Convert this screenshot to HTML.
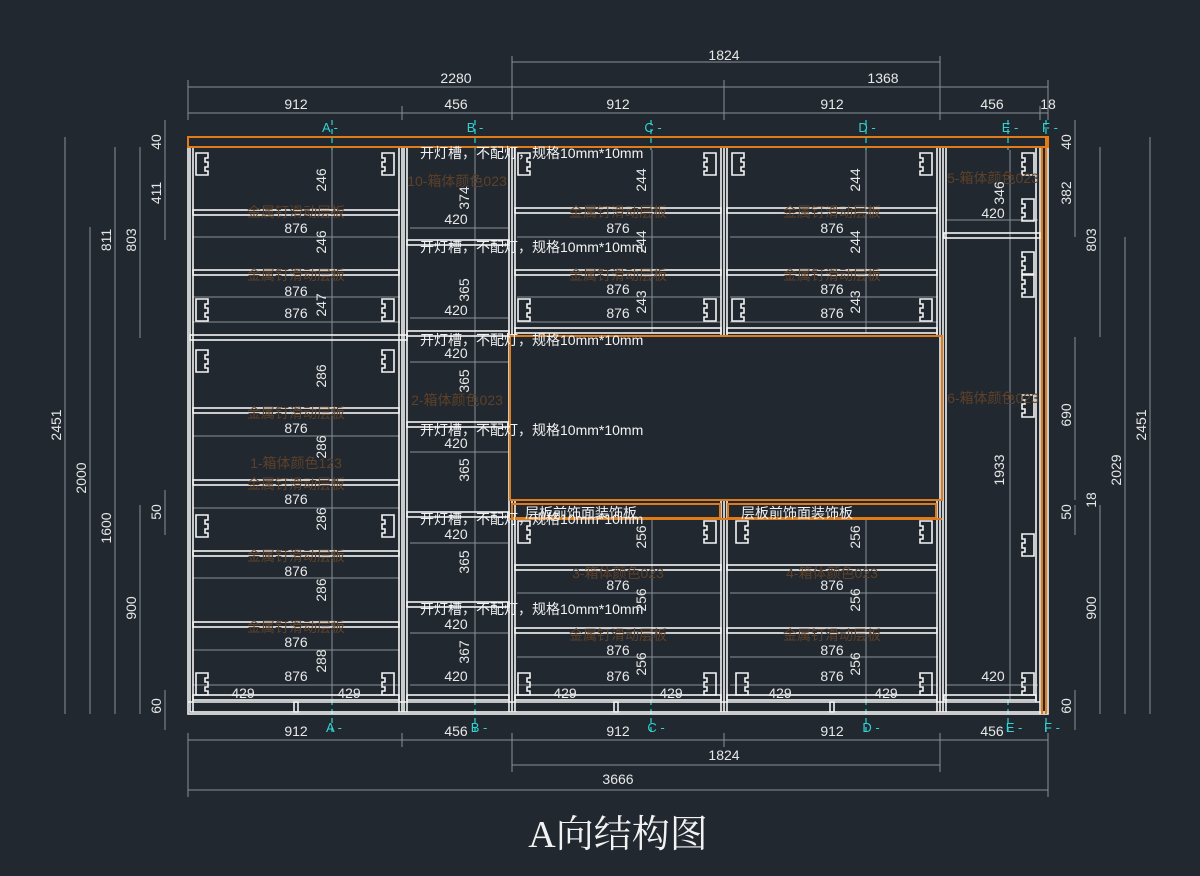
<!DOCTYPE html>
<html><head><meta charset="utf-8"><style>
html,body{margin:0;padding:0;background:#212830;}
svg{display:block}
text{font-family:"Liberation Sans","Noto Sans CJK SC",sans-serif;}
.d{fill:#e8e8e8;font-size:14px;text-anchor:middle}
.w{fill:#f2f2f2;font-size:14px}
.b{fill:#5e4128;font-size:14px;text-anchor:middle}
.c{fill:#2fd4d4;font-size:13px;text-anchor:middle}
.gl{stroke:#8a8f96;stroke-width:1;fill:none}
.s{stroke:#f4f4f4;stroke-width:1.6;fill:none}
.o{stroke:#e07b1a;stroke-width:2;fill:none}
.cy{stroke:#2fd4d4;stroke-width:1.2;stroke-dasharray:5 4}
</style></head><body>
<svg width="1200" height="876" viewBox="0 0 1200 876" xmlns="http://www.w3.org/2000/svg">
<rect width="1200" height="876" fill="#212830"/>

<g class="gl">
<line x1="188" y1="113" x2="1048" y2="113"/>
<line x1="188" y1="87" x2="1048" y2="87"/>
<line x1="512" y1="62" x2="940" y2="62"/>
<line x1="188" y1="740" x2="1048" y2="740"/>
<line x1="512" y1="765" x2="940" y2="765"/>
<line x1="188" y1="790" x2="1048" y2="790"/>
<line x1="188" y1="80" x2="188" y2="120"/><line x1="402" y1="106" x2="402" y2="120"/><line x1="512" y1="56" x2="512" y2="120"/>
<line x1="724" y1="80" x2="724" y2="120"/><line x1="940" y1="56" x2="940" y2="120"/><line x1="1040" y1="106" x2="1040" y2="120"/><line x1="1048" y1="80" x2="1048" y2="120"/>
<line x1="188" y1="733" x2="188" y2="797"/><line x1="402" y1="733" x2="402" y2="747"/><line x1="512" y1="733" x2="512" y2="772"/>
<line x1="724" y1="733" x2="724" y2="747"/><line x1="940" y1="733" x2="940" y2="772"/><line x1="1048" y1="733" x2="1048" y2="797"/>
<line x1="65" y1="137" x2="65" y2="714"/><line x1="90" y1="227" x2="90" y2="714"/>
<line x1="115" y1="147" x2="115" y2="714"/><line x1="140" y1="147" x2="140" y2="338"/><line x1="140" y1="505" x2="140" y2="714"/>
<line x1="165" y1="120" x2="165" y2="240"/><line x1="165" y1="490" x2="165" y2="535"/><line x1="165" y1="690" x2="165" y2="730"/>
<line x1="1075" y1="120" x2="1075" y2="237"/><line x1="1075" y1="337" x2="1075" y2="500"/><line x1="1075" y1="505" x2="1075" y2="535"/><line x1="1075" y1="690" x2="1075" y2="730"/>
<line x1="1100" y1="147" x2="1100" y2="337"/><line x1="1100" y1="505" x2="1100" y2="714"/>
<line x1="1125" y1="237" x2="1125" y2="714"/><line x1="1150" y1="137" x2="1150" y2="714"/>
<line x1="332" y1="150" x2="332" y2="700"/><line x1="475" y1="150" x2="475" y2="700"/>
<line x1="652" y1="150" x2="652" y2="333"/><line x1="652" y1="520" x2="652" y2="700"/>
<line x1="866" y1="150" x2="866" y2="333"/><line x1="866" y1="520" x2="866" y2="700"/>
<line x1="1010" y1="150" x2="1010" y2="700"/>
<line x1="192" y1="237" x2="400" y2="237"/><line x1="192" y1="297" x2="400" y2="297"/><line x1="192" y1="322" x2="400" y2="322"/>
<line x1="192" y1="436" x2="400" y2="436"/><line x1="192" y1="508" x2="400" y2="508"/><line x1="192" y1="578" x2="400" y2="578"/><line x1="192" y1="650" x2="400" y2="650"/><line x1="192" y1="685" x2="400" y2="685"/>
<line x1="410" y1="228" x2="508" y2="228"/><line x1="410" y1="318" x2="508" y2="318"/><line x1="410" y1="362" x2="508" y2="362"/><line x1="410" y1="452" x2="508" y2="452"/><line x1="410" y1="543" x2="508" y2="543"/><line x1="410" y1="633" x2="508" y2="633"/><line x1="410" y1="685" x2="508" y2="685"/>
<line x1="517" y1="237" x2="721" y2="237"/><line x1="517" y1="297" x2="721" y2="297"/><line x1="517" y1="322" x2="721" y2="322"/>
<line x1="730" y1="237" x2="938" y2="237"/><line x1="730" y1="297" x2="938" y2="297"/><line x1="730" y1="322" x2="938" y2="322"/>
<line x1="517" y1="593" x2="721" y2="593"/><line x1="517" y1="657" x2="721" y2="657"/><line x1="517" y1="685" x2="721" y2="685"/>
<line x1="730" y1="593" x2="938" y2="593"/><line x1="730" y1="657" x2="938" y2="657"/><line x1="730" y1="685" x2="938" y2="685"/>
<line x1="946" y1="220" x2="1038" y2="220"/><line x1="946" y1="685" x2="1038" y2="685"/>
</g>

<g class="cy">
<line x1="332" y1="120" x2="332" y2="150"/><line x1="475" y1="120" x2="475" y2="150"/><line x1="651" y1="120" x2="651" y2="150"/>
<line x1="866" y1="120" x2="866" y2="150"/><line x1="1008" y1="120" x2="1008" y2="150"/><line x1="1046" y1="120" x2="1046" y2="150"/>
<line x1="332" y1="700" x2="332" y2="735"/><line x1="475" y1="700" x2="475" y2="735"/><line x1="651" y1="700" x2="651" y2="735"/>
<line x1="866" y1="700" x2="866" y2="735"/><line x1="1008" y1="700" x2="1008" y2="735"/><line x1="1046" y1="700" x2="1046" y2="735"/>
</g>
<g class="c">
<text x="330" y="132">A -</text><text x="475" y="132">B -</text><text x="653" y="132">C -</text><text x="867" y="132">D -</text><text x="1010" y="132">E -</text><text x="1050" y="132">F -</text>
<text x="334" y="732">A -</text><text x="479" y="732">B -</text><text x="656" y="732">C -</text><text x="871" y="732">D -</text><text x="1014" y="732">E -</text><text x="1052" y="732">F -</text>
</g>

<g class="s">
<rect x="188" y="137" width="860" height="577"/>
<rect x="190" y="147" width="856" height="565"/>
<line x1="188" y1="702" x2="1040" y2="702"/>
<line x1="193" y1="147" x2="193" y2="712"/>
<line x1="399" y1="147" x2="399" y2="712"/><line x1="402" y1="147" x2="402" y2="712"/>
<line x1="404" y1="147" x2="404" y2="712"/><line x1="407" y1="147" x2="407" y2="712"/>
<line x1="509" y1="147" x2="509" y2="712"/><line x1="512" y1="147" x2="512" y2="336"/><line x1="512" y1="500" x2="512" y2="712"/><line x1="515" y1="147" x2="515" y2="336"/><line x1="515" y1="500" x2="515" y2="712"/>
<line x1="721" y1="147" x2="721" y2="335"/><line x1="724" y1="147" x2="724" y2="335"/><line x1="727" y1="147" x2="727" y2="335"/>
<line x1="721" y1="500" x2="721" y2="712"/><line x1="724" y1="500" x2="724" y2="712"/><line x1="727" y1="500" x2="727" y2="712"/>
<line x1="937" y1="147" x2="937" y2="335"/><line x1="937" y1="500" x2="937" y2="712"/><line x1="940" y1="147" x2="940" y2="712"/><line x1="943" y1="147" x2="943" y2="712"/><line x1="946" y1="147" x2="946" y2="712"/>
<line x1="1036" y1="147" x2="1036" y2="702"/><line x1="1040" y1="147" x2="1040" y2="714"/>
<rect x="193" y="210" width="206" height="5"/><rect x="193" y="270" width="206" height="5"/>
<rect x="190" y="335" width="217" height="5"/><rect x="193" y="408" width="206" height="5"/>
<rect x="193" y="480" width="206" height="5"/><rect x="193" y="551" width="206" height="5"/>
<rect x="193" y="622" width="206" height="5"/><rect x="193" y="695" width="206" height="5"/>
<rect x="407" y="240" width="102" height="5"/><rect x="407" y="331" width="102" height="5"/>
<rect x="407" y="422" width="102" height="5"/><rect x="407" y="512" width="102" height="5"/>
<rect x="407" y="602" width="102" height="5"/><rect x="407" y="695" width="102" height="5"/>
<rect x="515" y="208" width="206" height="5"/><rect x="515" y="270" width="206" height="5"/><rect x="515" y="328" width="206" height="5"/>
<rect x="727" y="208" width="210" height="5"/><rect x="727" y="270" width="210" height="5"/><rect x="727" y="328" width="210" height="5"/>
<rect x="515" y="565" width="206" height="5"/><rect x="515" y="628" width="206" height="5"/><rect x="515" y="695" width="206" height="5"/>
<rect x="727" y="565" width="210" height="5"/><rect x="727" y="628" width="210" height="5"/><rect x="727" y="695" width="210" height="5"/>
<rect x="944" y="233" width="96" height="5"/><rect x="944" y="695" width="92" height="5"/>
<rect x="294" y="702" width="4" height="10"/><rect x="614" y="702" width="4" height="10"/><rect x="830" y="702" width="4" height="10"/>
</g>
<g class="s" stroke-width="1.3">
<path d="M196 153h12v5h-3v4h3v5h-3v4h3v4h-12z"/><path d="M394 153h-12v5h3v4h-3v5h3v4h-3v4h12z"/>
<path d="M196 299h12v5h-3v4h3v5h-3v4h3v4h-12z"/><path d="M394 299h-12v5h3v4h-3v5h3v4h-3v4h12z"/>
<path d="M196 350h12v5h-3v4h3v5h-3v4h3v4h-12z"/><path d="M394 350h-12v5h3v4h-3v5h3v4h-3v4h12z"/>
<path d="M196 515h12v5h-3v4h3v5h-3v4h3v4h-12z"/><path d="M394 515h-12v5h3v4h-3v5h3v4h-3v4h12z"/>
<path d="M196 673h12v5h-3v4h3v5h-3v4h3v4h-12z"/><path d="M394 673h-12v5h3v4h-3v5h3v4h-3v4h12z"/>
<path d="M518 153h12v5h-3v4h3v5h-3v4h3v4h-12z"/><path d="M716 153h-12v5h3v4h-3v5h3v4h-3v4h12z"/>
<path d="M518 299h12v5h-3v4h3v5h-3v4h3v4h-12z"/><path d="M716 299h-12v5h3v4h-3v5h3v4h-3v4h12z"/>
<path d="M518 521h12v5h-3v4h3v5h-3v4h3v4h-12z"/><path d="M716 521h-12v5h3v4h-3v5h3v4h-3v4h12z"/>
<path d="M518 673h12v5h-3v4h3v5h-3v4h3v4h-12z"/><path d="M716 673h-12v5h3v4h-3v5h3v4h-3v4h12z"/>
<path d="M732 153h12v5h-3v4h3v5h-3v4h3v4h-12z"/><path d="M932 153h-12v5h3v4h-3v5h3v4h-3v4h12z"/>
<path d="M732 299h12v5h-3v4h3v5h-3v4h3v4h-12z"/><path d="M932 299h-12v5h3v4h-3v5h3v4h-3v4h12z"/>
<path d="M736 521h12v5h-3v4h3v5h-3v4h3v4h-12z"/><path d="M932 521h-12v5h3v4h-3v5h3v4h-3v4h12z"/>
<path d="M736 673h12v5h-3v4h3v5h-3v4h3v4h-12z"/><path d="M932 673h-12v5h3v4h-3v5h3v4h-3v4h12z"/>
<path d="M1034 153h-12v5h3v4h-3v5h3v4h-3v4h12z"/><path d="M1034 199h-12v5h3v4h-3v5h3v4h-3v4h12z"/>
<path d="M1034 252h-12v5h3v4h-3v5h3v4h-3v4h12z"/><path d="M1034 275h-12v5h3v4h-3v5h3v4h-3v4h12z"/>
<path d="M1034 395h-12v5h3v4h-3v5h3v4h-3v4h12z"/><path d="M1034 534h-12v5h3v4h-3v5h3v4h-3v4h12z"/>
<path d="M1034 673h-12v5h3v4h-3v5h3v4h-3v4h12z"/>
</g>
<g class="o">
<rect x="188" y="137" width="860" height="10"/>
<line x1="1042" y1="147" x2="1042" y2="714"/><line x1="1046" y1="137" x2="1046" y2="714"/>
<rect x="510" y="336" width="432" height="164"/>
<rect x="512" y="504" width="208" height="14"/><rect x="728" y="504" width="208" height="14"/>
<line x1="510" y1="519" x2="942" y2="519"/>
</g>

<g class="b">
<text x="296" y="217">金属钉滑动层板</text><text x="296" y="280">金属钉滑动层板</text>
<text x="296" y="418">金属钉滑动层板</text><text x="296" y="468">1-箱体颜色123</text><text x="296" y="489">金属钉滑动层板</text>
<text x="296" y="561">金属钉滑动层板</text><text x="296" y="632">金属钉滑动层板</text>
<text x="457" y="186">10-箱体颜色023</text><text x="457" y="405">2-箱体颜色023</text>
<text x="618" y="217">金属钉滑动层板</text><text x="618" y="280">金属钉滑动层板</text>
<text x="832" y="217">金属钉滑动层板</text><text x="832" y="280">金属钉滑动层板</text>
<text x="618" y="578">3-箱体颜色023</text><text x="618" y="640">金属钉滑动层板</text>
<text x="832" y="578">4-箱体颜色023</text><text x="832" y="640">金属钉滑动层板</text>
<text x="993" y="183">5-箱体颜色023</text><text x="993" y="403">6-箱体颜色023</text>
</g>

<g class="w">
<text x="420" y="158">开灯槽，不配灯，规格10mm*10mm</text>
<text x="420" y="252">开灯槽，不配灯，规格10mm*10mm</text>
<text x="420" y="345">开灯槽，不配灯，规格10mm*10mm</text>
<text x="420" y="435">开灯槽，不配灯，规格10mm*10mm</text>
<text x="420" y="524">开灯槽，不配灯，规格10mm*10mm</text>
<text x="420" y="614">开灯槽，不配灯，规格10mm*10mm</text>
<text x="525" y="518">层板前饰面装饰板</text>
<text x="741" y="518">层板前饰面装饰板</text>
</g>

<g class="d">
<text x="296" y="109">912</text><text x="456" y="109">456</text><text x="618" y="109">912</text><text x="832" y="109">912</text><text x="992" y="109">456</text><text x="1048" y="109">18</text>
<text x="456" y="83">2280</text><text x="883" y="83">1368</text><text x="724" y="60">1824</text>
<text x="296" y="736">912</text><text x="456" y="736">456</text><text x="618" y="736">912</text><text x="832" y="736">912</text><text x="992" y="736">456</text>
<text x="724" y="760">1824</text><text x="618" y="784">3666</text>
<text x="296" y="233">876</text><text x="296" y="296">876</text><text x="296" y="318">876</text>
<text x="296" y="433">876</text><text x="296" y="504">876</text><text x="296" y="576">876</text><text x="296" y="647">876</text><text x="296" y="681">876</text>
<text x="456" y="224">420</text><text x="456" y="315">420</text><text x="456" y="358">420</text><text x="456" y="448">420</text><text x="456" y="539">420</text><text x="456" y="629">420</text><text x="456" y="681">420</text>
<text x="618" y="233">876</text><text x="618" y="294">876</text><text x="618" y="318">876</text>
<text x="832" y="233">876</text><text x="832" y="294">876</text><text x="832" y="318">876</text>
<text x="618" y="590">876</text><text x="618" y="655">876</text><text x="618" y="681">876</text>
<text x="832" y="590">876</text><text x="832" y="655">876</text><text x="832" y="681">876</text>
<text x="993" y="218">420</text><text x="993" y="681">420</text>
<text x="243" y="698">429</text><text x="349" y="698">429</text><text x="565" y="698">429</text><text x="671" y="698">429</text><text x="780" y="698">429</text><text x="886" y="698">429</text>
</g>
<g class="d">
<text transform="translate(326,180) rotate(-90)">246</text><text transform="translate(326,242) rotate(-90)">246</text><text transform="translate(326,305) rotate(-90)">247</text>
<text transform="translate(326,376) rotate(-90)">286</text><text transform="translate(326,447) rotate(-90)">286</text><text transform="translate(326,519) rotate(-90)">286</text><text transform="translate(326,590) rotate(-90)">286</text><text transform="translate(326,661) rotate(-90)">288</text>
<text transform="translate(469,198) rotate(-90)">374</text><text transform="translate(469,290) rotate(-90)">365</text><text transform="translate(469,381) rotate(-90)">365</text><text transform="translate(469,470) rotate(-90)">365</text><text transform="translate(469,562) rotate(-90)">365</text><text transform="translate(469,652) rotate(-90)">367</text>
<text transform="translate(646,180) rotate(-90)">244</text><text transform="translate(646,242) rotate(-90)">244</text><text transform="translate(646,302) rotate(-90)">243</text>
<text transform="translate(860,180) rotate(-90)">244</text><text transform="translate(860,242) rotate(-90)">244</text><text transform="translate(860,302) rotate(-90)">243</text>
<text transform="translate(646,537) rotate(-90)">256</text><text transform="translate(646,600) rotate(-90)">256</text><text transform="translate(646,664) rotate(-90)">256</text>
<text transform="translate(860,537) rotate(-90)">256</text><text transform="translate(860,600) rotate(-90)">256</text><text transform="translate(860,664) rotate(-90)">256</text>
<text transform="translate(1004,193) rotate(-90)">346</text><text transform="translate(1004,470) rotate(-90)">1933</text>
<text transform="translate(61,425) rotate(-90)">2451</text><text transform="translate(86,478) rotate(-90)">2000</text>
<text transform="translate(111,240) rotate(-90)">811</text><text transform="translate(111,528) rotate(-90)">1600</text>
<text transform="translate(136,240) rotate(-90)">803</text><text transform="translate(136,608) rotate(-90)">900</text>
<text transform="translate(161,142) rotate(-90)">40</text><text transform="translate(161,193) rotate(-90)">411</text><text transform="translate(161,512) rotate(-90)">50</text><text transform="translate(161,706) rotate(-90)">60</text>
<text transform="translate(1071,142) rotate(-90)">40</text><text transform="translate(1071,193) rotate(-90)">382</text><text transform="translate(1071,415) rotate(-90)">690</text><text transform="translate(1071,512) rotate(-90)">50</text><text transform="translate(1071,706) rotate(-90)">60</text>
<text transform="translate(1096,240) rotate(-90)">803</text><text transform="translate(1096,500) rotate(-90)">18</text><text transform="translate(1096,608) rotate(-90)">900</text>
<text transform="translate(1121,470) rotate(-90)">2029</text><text transform="translate(1146,425) rotate(-90)">2451</text>
</g>

<text x="618" y="847" text-anchor="middle" fill="#f2f2f2" font-size="38" style="font-family:'Liberation Serif','Noto Serif CJK SC',serif">A向结构图</text>
</svg>
</body></html>
